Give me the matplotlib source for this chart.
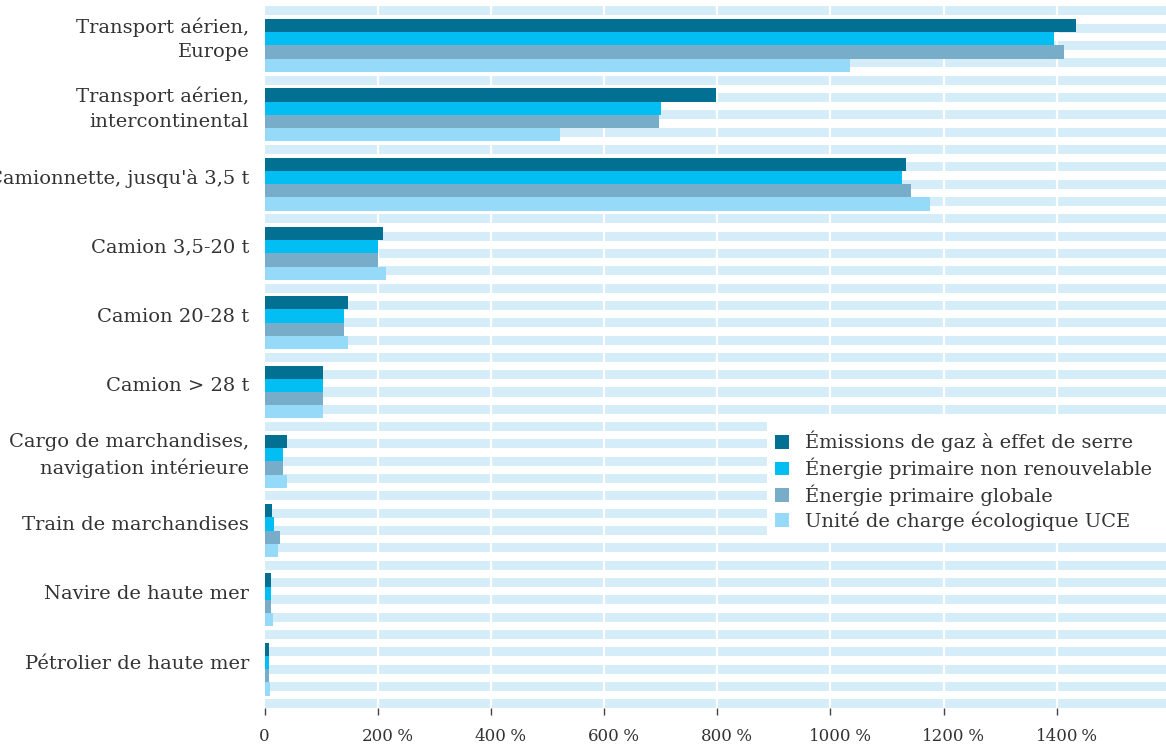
import matplotlib
matplotlib.use("Agg")
import matplotlib.pyplot as plt
import numpy as np
from matplotlib.patches import Rectangle
from matplotlib.transforms import ScaledTranslation

categories = [
    "Transport aérien,\nEurope",
    "Transport aérien,\nintercontinental",
    "Camionnette, jusqu'à 3,5 t",
    "Camion 3,5-20 t",
    "Camion 20-28 t",
    "Camion > 28 t",
    "Cargo de marchandises,\nnavigation intérieure",
    "Train de marchandises",
    "Navire de haute mer",
    "Pétrolier de haute mer",
]
series_names = [
    "Émissions de gaz à effet de serre",
    "Énergie primaire non renouvelable",
    "Énergie primaire globale",
    "Unité de charge écologique UCE",
]
ges = [1434, 797, 1133, 209, 147, 103, 39, 14, 11, 8]
energie_nr = [1395, 700, 1126, 200, 141, 103, 32, 17, 11, 8]
energie_glob = [1413, 697, 1142, 200, 141, 103, 32, 27, 11, 8]
uce = [1034, 523, 1176, 214, 147, 103, 40, 24, 15, 10]
ticks = [0, 200, 400, 600, 800, 1000, 1200, 1400]

colors = ["#027093", "#02BEF3", "#78ADCA", "#95DAF8"]
STRIPE = "#D5ECF9"
TEXT = "#333333"
FONT = "DejaVu Serif"
FS = 14
FS_TICK = 12

plt.rcParams["font.family"] = FONT

W, H = 1166, 747
fig = plt.figure(figsize=(W / 100, H / 100), dpi=100)
ax = fig.add_axes([264.5 / W, 1 - 708.4 / H, 1 - 264.5 / W, (708.4 - 6.3) / H])

n = len(categories)
y = np.arange(n)
xmax = 1593

# background stripes, four per category
stripe_y = np.arange(-0.5, n - 0.5 + 0.01, 0.25)
ax.barh(stripe_y, xmax, height=0.13, color=STRIPE, zorder=1, linewidth=0)
for t in ticks[1:]:
    ax.axvline(t, color="white", lw=1.6, zorder=1.5)

bh = 0.191
for i, vals in enumerate([ges, energie_nr, energie_glob, uce]):
    ax.barh(y + (i - 1.5) * bh, vals, height=bh, color=colors[i],
            label=series_names[i], zorder=2, linewidth=0)

ax.set_xlim(0, xmax)
ax.set_ylim(n - 0.5 + 0.065, -0.5 - 0.065)
for s in ax.spines.values():
    s.set_visible(False)

ax.set_yticks(y)
ax.set_yticklabels(categories, fontsize=FS, color=TEXT, linespacing=1.45)
ax.tick_params(axis="y", length=0, pad=11)
for lab, cat in zip(ax.get_yticklabels(), categories):
    lab.set_horizontalalignment("right")
    dy = 8 if "\n" in cat else 5.5
    lab.set_transform(lab.get_transform() + ScaledTranslation(0, dy / 72, fig.dpi_scale_trans))

ax.set_xticks(ticks)
ax.set_xticklabels([str(t) for t in ticks], fontsize=FS_TICK, color=TEXT)
ax.tick_params(axis="x", length=5, width=1, color="#444444", pad=9)
fig.canvas.draw()
for lab in ax.get_xticklabels()[1:]:
    ax.annotate("\u2009%", xy=(1, 0), xycoords=lab, ha="left", va="bottom",
                fontsize=FS_TICK, color=TEXT, annotation_clip=False)

# white box behind the legend
fig.patches.append(Rectangle((767 / W, 1 - 540 / H), 1 - 767 / W, 122 / H,
                             transform=fig.transFigure, facecolor="white",
                             edgecolor="none", zorder=3))
ax.set_zorder(1)
fs_px = FS * 100 / 72
leg = fig.legend(loc="upper left", bbox_to_anchor=(775 / W, 1 - 431 / H),
                 frameon=False, fontsize=FS, borderpad=0,
                 handlelength=14 / fs_px, handleheight=14 / fs_px,
                 handletextpad=16 / fs_px, labelspacing=0.27, borderaxespad=0)
for t in leg.get_texts():
    t.set_color(TEXT)
leg.set_zorder(4)

fig.savefig("out.png", dpi=100)
